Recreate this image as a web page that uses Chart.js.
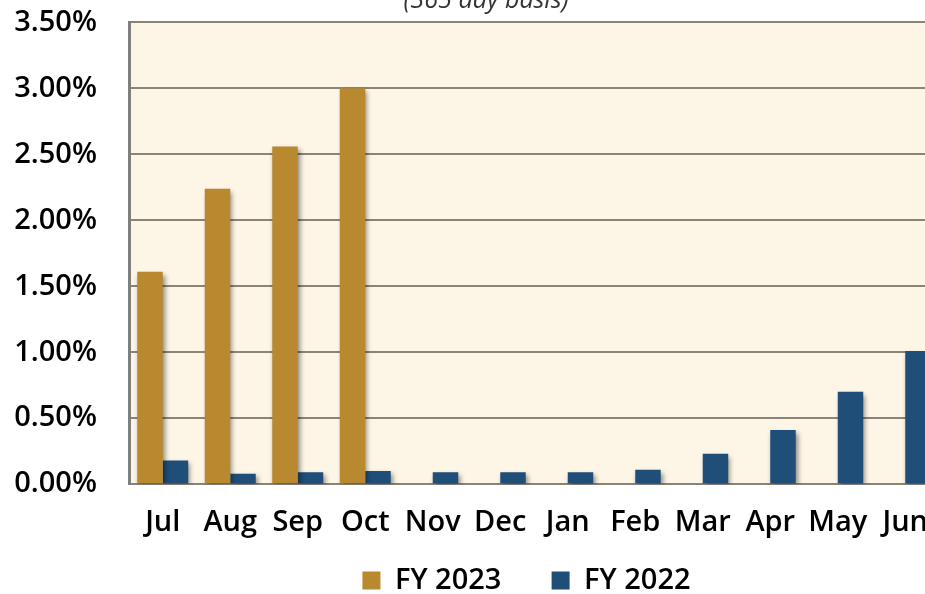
<!DOCTYPE html>
<html lang="en">
<head>
  <meta charset="UTF-8">
  <title>Yield FY 2023 vs FY 2022</title>
  <style>
    html, body {
      margin: 0;
      padding: 0;
      background: #ffffff;
      overflow: hidden;
      width: 925px;
      height: 594px;
    }
    .wrap {
      position: absolute;
      left: 0;
      top: -27px;
      width: 950px;
      height: 632px;
    }
  </style>
</head>
<body>
  <div class="wrap">
    <canvas id="chart" width="950" height="632"></canvas>
  </div>

  <script src="https://cdn.jsdelivr.net/npm/chart.js"></script>
  <script>
    // data (percent)
    const months = ['Jul', 'Aug', 'Sep', 'Oct', 'Nov', 'Dec', 'Jan', 'Feb', 'Mar', 'Apr', 'May', 'Jun'];
    const fy2023 = [1.61, 2.24, 2.56, 3.00, null, null, null, null, null, null, null, null];
    const fy2022 = [0.18, 0.08, 0.09, 0.10, 0.09, 0.09, 0.09, 0.11, 0.23, 0.41, 0.70, 1.01];
    const subtitle = '(365 day basis)';

    const font = "'Open Sans', 'Noto Sans', sans-serif";

    // cream plot background
    const plotBg = {
      id: 'plotBg',
      beforeDraw(chart) {
        const a = chart.chartArea;
        const ctx = chart.ctx;
        ctx.save();
        ctx.fillStyle = '#fdf5e6';
        ctx.fillRect(a.left, a.top, a.right - a.left, a.bottom - a.top);
        ctx.restore();
      }
    };

    // soft drop shadow under the bars
    const barShadow = {
      id: 'barShadow',
      beforeDatasetsDraw(chart) {
        const ctx = chart.ctx;
        ctx.save();
        ctx.shadowColor = 'rgba(0,0,0,0.45)';
        ctx.shadowBlur = 5;
        ctx.shadowOffsetX = 2;
        ctx.shadowOffsetY = 3;
      },
      afterDatasetsDraw(chart) {
        chart.ctx.restore();
      }
    };

    // the cut-off subtitle above the plot
    const subTitle = {
      id: 'subTitle',
      afterDraw(chart) {
        const ctx = chart.ctx;
        ctx.save();
        ctx.font = 'italic 25px ' + font;
        ctx.fillStyle = '#333333';
        ctx.textAlign = 'center';
        ctx.textBaseline = 'alphabetic';
        ctx.fillText(subtitle, 486, chart.chartArea.top - 14);
        ctx.restore();
      }
    };

    // legend sits a bit right of the canvas centre in the original
    const legendShift = {
      id: 'legendShift',
      afterLayout(chart) {
        chart.legend.left += 57;
        chart.legend.right += 57;
      }
    };

    new Chart(document.getElementById('chart'), {
      type: 'bar',
      data: {
        labels: months,
        datasets: [
          {
            label: 'FY 2023',
            data: fy2023,
            backgroundColor: '#b8892f',
            borderWidth: 0
          },
          {
            label: 'FY 2022',
            data: fy2022,
            backgroundColor: '#1f4e79',
            borderWidth: 0
          }
        ]
      },
      options: {
        responsive: false,
        animation: false,
        layout: {
          padding: { top: 0, right: 11, bottom: 0, left: 0 }
        },
        datasets: {
          bar: {
            categoryPercentage: 0.755,
            barPercentage: 1.0
          }
        },
        scales: {
          x: {
            grid: { display: false, drawTicks: false },
            border: { display: true, color: '#8a8478', width: 2 },
            ticks: {
              color: '#000000',
              padding: 21,
              font: { family: font, size: 29, weight: '600' }
            }
          },
          y: {
            min: 0,
            max: 3.5,
            afterFit(scale) { scale.width = 129; },
            grid: { color: '#8a8478', lineWidth: 2, drawTicks: false },
            border: { display: true, color: '#7f7f7f', width: 3 },
            ticks: {
              stepSize: 0.5,
              color: '#000000',
              padding: 32,
              font: { family: font, size: 29, weight: '600' },
              callback: v => v.toFixed(2) + '%'
            }
          }
        },
        plugins: {
          legend: {
            position: 'bottom',
            labels: {
              boxWidth: 18,
              boxHeight: 18,
              padding: 5,
              color: '#000000',
              font: { family: font, size: 29, weight: '600' },
              // widen the gap between the two entries
              generateLabels(chart) {
                const items = Chart.defaults.plugins.legend.labels.generateLabels(chart);
                items.forEach((it, i) => {
                  if (i < items.length - 1) it.text = it.text + '      ';
                });
                return items;
              }
            }
          },
          tooltip: { enabled: false }
        }
      },
      plugins: [plotBg, barShadow, subTitle, legendShift]
    });
  </script>
</body>
</html>
